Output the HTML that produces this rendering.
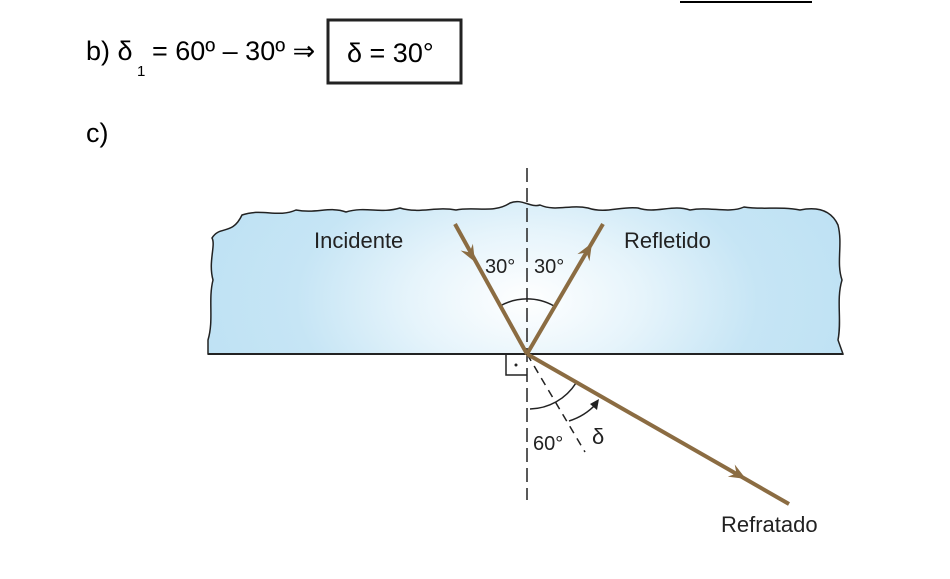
<!DOCTYPE html>
<html><head><meta charset="utf-8"><style>
body{margin:0;background:#fff;width:950px;height:574px;overflow:hidden;font-family:"Liberation Sans",sans-serif;}
</style></head><body>
<svg width="950" height="574" xmlns="http://www.w3.org/2000/svg" font-family="Liberation Sans, sans-serif">
<defs>
<radialGradient id="g" cx="527" cy="300" r="330" gradientUnits="userSpaceOnUse" gradientTransform="translate(527 300) scale(1 0.6) translate(-527 -300)">
<stop offset="0" stop-color="#ffffff"/><stop offset="0.35" stop-color="#e6f4fb"/><stop offset="0.7" stop-color="#c6e5f5"/><stop offset="1" stop-color="#bfe2f4"/>
</radialGradient>
<path id="ah" d="M0,0 L-17,-7 L-11,0 L-17,7 Z" fill="#8b6c42"/>
</defs>
<line x1="680" y1="2" x2="812" y2="2" stroke="#000" stroke-width="2"/>
<text x="86" y="60" font-size="27">b) δ</text>
<text x="137" y="76" font-size="15">1</text>
<text x="152" y="60" font-size="27">= 60º – 30º ⇒</text>
<rect x="328" y="20" width="133" height="63" fill="none" stroke="#222" stroke-width="3"/>
<text x="347" y="62" font-size="27">δ = 30°</text>
<text x="86" y="142" font-size="27">c)</text>
<path d="M208,354 L208,340 C214,320 208,300 213,280 C208,262 216,245 212,238 C220,225 232,236 242,215 C262,208 278,218 296,210 C316,214 330,206 346,212 C366,206 380,214 400,208 C420,214 436,206 456,210 C474,206 494,214 510,203 C522,198 530,208 540,205 C556,212 570,204 588,208 C606,214 620,206 638,208 C656,214 672,204 690,210 C710,206 728,214 744,207 C762,210 780,206 800,210 C820,206 832,212 838,225 C843,245 836,262 842,280 C836,300 842,320 838,340 L843,354 Z" fill="url(#g)" stroke="#222" stroke-width="1.5"/>
<line x1="208" y1="354" x2="843" y2="354" stroke="#222" stroke-width="2"/>
<line x1="527" y1="168" x2="527" y2="500" stroke="#222" stroke-width="1.5" stroke-dasharray="14,6"/>
<line x1="527" y1="354" x2="585" y2="452" stroke="#222" stroke-width="1.5" stroke-dasharray="8,6"/>
<polyline points="506,354 506,375 527,375" fill="none" stroke="#222" stroke-width="1.5"/>
<circle cx="516" cy="365" r="1.5" fill="#222"/>
<path d="M500,306 A55,55 0 0 1 554,306" fill="none" stroke="#222" stroke-width="1.5"/>
<path d="M530,409 A56,56 0 0 0 576,383" fill="none" stroke="#222" stroke-width="1.5"/>
<path d="M569,421 Q585,416 596,404" fill="none" stroke="#222" stroke-width="1.5"/>
<polygon points="599,399 590,404 597,410" fill="#222"/>
<g stroke="#8b6c42" stroke-width="4" fill="none">
<line x1="455" y1="224" x2="527" y2="354"/>
<line x1="527" y1="354" x2="603" y2="224"/>
<line x1="527" y1="354" x2="789" y2="504"/>
</g>
<use href="#ah" transform="translate(475,262) rotate(61)"/>
<use href="#ah" transform="translate(592,243) rotate(-59.7)"/>
<use href="#ah" transform="translate(746,479) rotate(29.8)"/>
<text x="314" y="248" font-size="22" fill="#222">Incidente</text>
<text x="624" y="248" font-size="22" fill="#222">Refletido</text>
<text x="485" y="273" font-size="20" fill="#222">30°</text>
<text x="534" y="273" font-size="20" fill="#222">30°</text>
<text x="533" y="450" font-size="20" fill="#222">60°</text>
<text x="592" y="444" font-size="22" fill="#222">δ</text>
<text x="721" y="532" font-size="22" fill="#222">Refratado</text>
</svg>
</body></html>
